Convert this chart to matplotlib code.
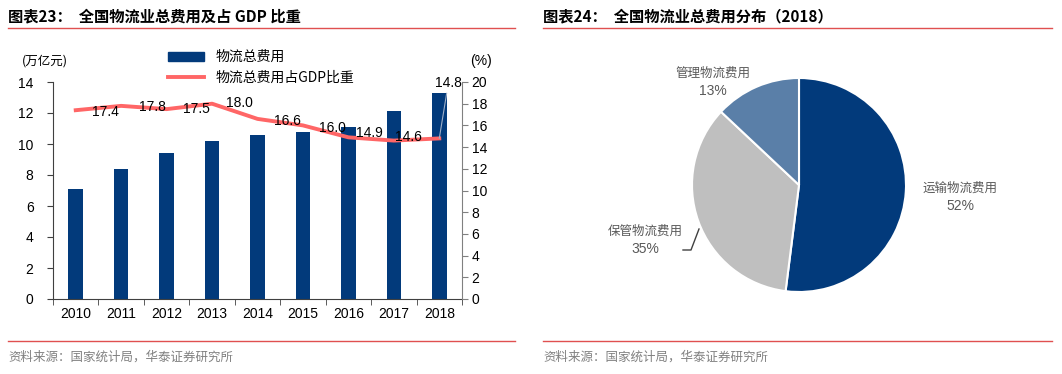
import matplotlib
matplotlib.use("Agg")
import matplotlib.pyplot as plt
from matplotlib.lines import Line2D

plt.rcParams['font.family'] = ['Liberation Sans', 'Noto Sans CJK SC', 'DejaVu Sans']

# data
years = ['2010', '2011', '2012', '2013', '2014', '2015', '2016', '2017', '2018']
total_cost = [7.1, 8.4, 9.4, 10.2, 10.6, 10.8, 11.1, 12.1, 13.3]
gdp_share = [17.4, 17.8, 17.5, 18.0, 16.6, 16.0, 14.9, 14.6, 14.8]
pie_labels = ['运输物流费用', '保管物流费用', '管理物流费用']
pie_values = [52, 35, 13]

W, H = 1062, 374
fig = plt.figure(figsize=(W / 100, H / 100), dpi=100)

def fx(px):
    return px / W

def fy(py):
    return 1 - py / H

navy = '#023a7b'
red = '#ff6666'
grey_txt = '#595959'
cjk = ['Noto Sans CJK SC', 'DejaVu Sans']

# titles, rules and sources
fig.text(fx(8), fy(16), '图表23：  全国物流业总费用及占 GDP 比重', family=cjk,
         fontsize=11, fontweight='bold', va='center', ha='left')
fig.text(fx(543), fy(16), '图表24：  全国物流业总费用分布（2018）', family=cjk,
         fontsize=11, fontweight='bold', va='center', ha='left')
for x0, x1 in [(8, 515), (543, 1052)]:
    for yy in (28, 341):
        fig.add_artist(Line2D([fx(x0), fx(x1)], [fy(yy), fy(yy)], color='#e05050', lw=1))
    fig.text(fx(x0), fy(357), '资料来源：国家统计局，华泰证券研究所', family=cjk,
             fontsize=9, color='#808080', va='center', ha='left')

# left: bar + line
ax = fig.add_axes([fx(53), fy(299), fx(462) - fx(53), fy(82) - fy(299)])
x = list(range(len(years)))
ax.bar(x, total_cost, width=0.32, color=navy, zorder=2)
ax.set_xlim(-0.5, len(years) - 0.5)
ax.set_ylim(0, 14)
ax.set_yticks(range(0, 15, 2))
ax.set_xticks(x)
ax.set_xticklabels(years)
ax.set_xticks([i - 0.5 for i in range(len(years) + 1)], minor=True)
ax.tick_params(axis='x', which='major', length=0, labelsize=10, pad=6)
ax.tick_params(axis='x', which='minor', length=4, color='#404040')
ax.tick_params(axis='y', length=4, labelsize=10, color='#404040', pad=10)
ax.spines['top'].set_visible(False)
ax.spines['right'].set_visible(False)
for s in ('left', 'bottom'):
    ax.spines[s].set_color('#404040')

ax2 = ax.twinx()
ax2.plot(x, gdp_share, color=red, lw=2.8, solid_joinstyle='round', zorder=3)
ax2.set_ylim(0, 20)
ax2.set_yticks(range(0, 21, 2))
ax2.tick_params(axis='y', length=4, labelsize=10, color='#808080', pad=3)
ax2.spines['top'].set_visible(False)
ax2.spines['left'].set_visible(False)
ax2.spines['bottom'].set_visible(False)
ax2.spines['right'].set_color('#808080')

# line value labels, shifted right of each point (pixel offsets)
offsets = [(30, -2), (31, -1), (30, 0), (27, 1), (30, -2), (29, -3), (21, 4), (15, 4)]
for i, v in enumerate(gdp_share[:-1]):
    dx, dy = offsets[i]
    ax2.annotate(f'{v:.1f}', (i, v), xytext=(dx, dy), textcoords='offset pixels',
                 ha='center', va='center', fontsize=10)
ax2.annotate(f'{gdp_share[-1]:.1f}', (x[-1], gdp_share[-1]), xytext=(9, 55),
             textcoords='offset pixels', ha='center', va='center', fontsize=10,
             arrowprops=dict(arrowstyle='-', color='#a0b0c8', lw=0.8, shrinkA=0, shrinkB=0))

fig.text(fx(22), fy(61), '(万亿元)', family=cjk, fontsize=9, va='center', ha='left')
fig.text(fx(470), fy(61), '(%)', fontsize=10, va='center', ha='left')

handles = [plt.Rectangle((0, 0), 1, 1, color=navy),
           Line2D([], [], color=red, lw=2.8)]
ax.legend(handles, ['物流总费用', '物流总费用占GDP比重'], loc='upper left',
          bbox_to_anchor=(fx(168), fy(50)), bbox_transform=fig.transFigure,
          frameon=False, prop={'family': cjk, 'size': 10}, handlelength=2.6,
          handleheight=0.6, labelspacing=0.5, borderaxespad=0, borderpad=0)

# right: pie
r = 107
cx, cy = 799, 185
pax = fig.add_axes([fx(cx - r), fy(cy + r), fx(2 * r), fy(0) - fy(2 * r)])
pax.pie(pie_values, colors=[navy, '#bfbfbf', '#5a7fa8'], startangle=90,
        counterclock=False, radius=1,
        wedgeprops=dict(edgecolor='white', linewidth=1.5))
pax.set_xlim(-1, 1)
pax.set_ylim(-1, 1)
pax.set_aspect('auto')
pax.axis('off')

label_pos = [(960, 188), (645, 231), (713, 73)]
for (px, py), name, val in zip(label_pos, pie_labels, pie_values):
    fig.text(fx(px), fy(py), name, family=cjk, fontsize=9, color=grey_txt,
             ha='center', va='center')
    fig.text(fx(px), fy(py + 18), f'{val}%', fontsize=10, color=grey_txt,
             ha='center', va='center')
fig.add_artist(Line2D([fx(683), fx(691), fx(699)], [fy(250), fy(250), fy(229)],
                      color='#404040', lw=1))

fig.savefig('out.png', dpi=100)
